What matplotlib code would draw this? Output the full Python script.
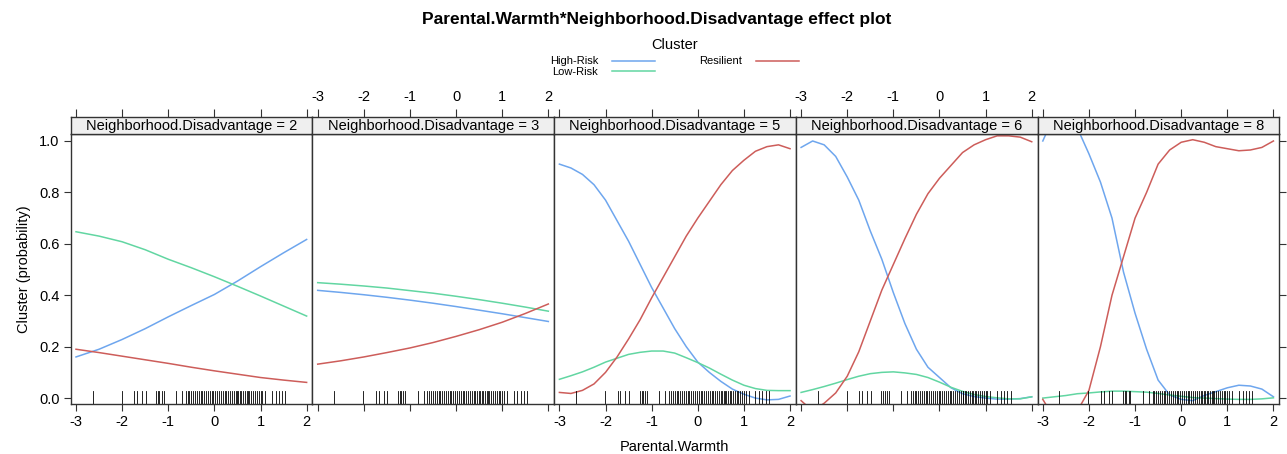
import numpy as np
import matplotlib.pyplot as plt
from matplotlib.lines import Line2D

plt.rcParams['font.family'] = ['Liberation Sans', 'DejaVu Sans']

# x grids for the effect curves
warmth_coarse = [-3, -2.5, -2, -1.5, -1, -0.5, 0, 0.5, 1, 1.5, 2]
warmth_fine = [-3, -2.75, -2.5, -2.25, -2, -1.75, -1.5, -1.25, -1, -0.75, -0.5,
               -0.25, 0, 0.25, 0.5, 0.75, 1, 1.25, 1.5, 1.75, 2]

disadvantage = [2, 3, 5, 6, 8]
clusters = ["High-Risk", "Low-Risk", "Resilient"]
colors = {"High-Risk": "#6ea6ee", "Low-Risk": "#62d6a2", "Resilient": "#cd5d5a"}

# Neighborhood.Disadvantage = 2
hr_2 = [0.16, 0.19, 0.228, 0.27, 0.316, 0.36, 0.403, 0.455, 0.511, 0.565, 0.617]
lr_2 = [0.647, 0.63, 0.608, 0.577, 0.54, 0.507, 0.472, 0.435, 0.397, 0.358, 0.319]
rs_2 = [0.19, 0.177, 0.163, 0.149, 0.135, 0.12, 0.106, 0.093, 0.08, 0.07, 0.061]

# Neighborhood.Disadvantage = 3
hr_3 = [0.419, 0.411, 0.402, 0.392, 0.381, 0.369, 0.356, 0.342, 0.328, 0.313, 0.298]
lr_3 = [0.449, 0.443, 0.436, 0.428, 0.418, 0.408, 0.396, 0.383, 0.369, 0.354, 0.338]
rs_3 = [0.132, 0.145, 0.16, 0.177, 0.195, 0.216, 0.24, 0.266, 0.295, 0.329, 0.366]

# Neighborhood.Disadvantage = 5
hr_5 = [0.91, 0.895, 0.87, 0.83, 0.77, 0.69, 0.61, 0.52, 0.43, 0.35, 0.27,
        0.20, 0.14, 0.10, 0.065, 0.035, 0.015, 0.0, -0.007, -0.005, 0.008]
lr_5 = [0.073, 0.087, 0.102, 0.12, 0.14, 0.155, 0.17, 0.178, 0.183, 0.183, 0.175,
        0.157, 0.138, 0.117, 0.093, 0.07, 0.05, 0.037, 0.03, 0.029, 0.029]
rs_5 = [0.022, 0.018, 0.03, 0.055, 0.10, 0.16, 0.23, 0.305, 0.39, 0.47, 0.55,
        0.63, 0.70, 0.765, 0.83, 0.885, 0.925, 0.96, 0.978, 0.985, 0.97]

# Neighborhood.Disadvantage = 6
hr_6 = [0.975, 1.0, 0.985, 0.94, 0.86, 0.77, 0.65, 0.54, 0.41, 0.29, 0.19,
        0.12, 0.08, 0.04, 0.017, 0.006, 0.0, -0.004, -0.004, -0.002, 0.005]
lr_6 = [0.022, 0.033, 0.045, 0.058, 0.072, 0.085, 0.095, 0.1, 0.102, 0.098, 0.092,
        0.08, 0.062, 0.042, 0.026, 0.014, 0.006, 0.001, -0.003, -0.003, 0.005]
rs_6 = [-0.01, -0.05, -0.02, 0.02, 0.085, 0.18, 0.30, 0.42, 0.52, 0.62, 0.715,
        0.795, 0.855, 0.905, 0.955, 0.985, 1.005, 1.02, 1.02, 1.015, 0.997]

# Neighborhood.Disadvantage = 8
hr_8 = [1.0, 1.1, 1.12, 1.05, 0.95, 0.84, 0.70, 0.49, 0.33, 0.19, 0.07,
        0.012, -0.005, -0.01, 0.01, 0.025, 0.04, 0.05, 0.047, 0.035, 0.005]
lr_8 = [0.0, 0.005, 0.01, 0.017, 0.02, 0.024, 0.027, 0.027, 0.025, 0.023, 0.018,
        0.012, 0.007, 0.002, 0.0, -0.002, -0.004, -0.005, -0.005, -0.003, 0.001]
rs_8 = [-0.005, -0.08, -0.12, -0.05, 0.03, 0.20, 0.40, 0.55, 0.70, 0.80, 0.91,
        0.965, 0.995, 1.005, 0.995, 0.978, 0.97, 0.962, 0.965, 0.975, 1.0]

panels = [
    (warmth_coarse, hr_2, lr_2, rs_2),
    (warmth_coarse, hr_3, lr_3, rs_3),
    (warmth_fine, hr_5, lr_5, rs_5),
    (warmth_fine, hr_6, lr_6, rs_6),
    (warmth_fine, hr_8, lr_8, rs_8),
]

# observed Parental.Warmth values (rug)
rug_warmth = [-2.64, -2.01, -1.74, -1.68, -1.57, -1.49, -1.26, -1.22, -1.19, -1.14,
              -1.10, -0.83, -0.70, -0.62, -0.58, -0.54, -0.50, -0.46, -0.42, -0.38,
              -0.34, -0.30, -0.26, -0.22, -0.18, -0.14, -0.10, -0.06, -0.02, 0.02,
              0.06, 0.10, 0.14, 0.18, 0.22, 0.26, 0.30, 0.34, 0.38, 0.42, 0.46,
              0.50, 0.52, 0.56, 0.58, 0.62, 0.66, 0.70, 0.72, 0.76, 0.80, 0.84,
              0.88, 0.92, 0.96, 1.00, 1.04, 1.10, 1.25, 1.33, 1.40, 1.47, 1.54]

xticks = [-3, -2, -1, 0, 1, 2]
yticks = [0.0, 0.2, 0.4, 0.6, 0.8, 1.0]
xlim = (-3.115, 2.125)
ylim = (-0.023, 1.026)

W, H = 1287, 454
fig = plt.figure(figsize=(W / 100, H / 100), dpi=100)

left0 = 70.7 / W
pw = 241.7 / W
bottom = (H - 404) / H
ph = (404 - 134.3) / H
sh = 17.6 / H
edge = "#333333"

for i, (xs, hr, lr, rs) in enumerate(panels):
    ax = fig.add_axes([left0 + i * pw, bottom, pw, ph])
    for name, ys in zip(clusters, (hr, lr, rs)):
        ax.plot(xs, ys, color=colors[name], lw=1.1)
    for r in rug_warmth:
        ax.plot([r, r], [0, 0.05], color="black", lw=0.6,
                transform=ax.get_xaxis_transform())
    ax.set_xlim(*xlim)
    ax.set_ylim(*ylim)
    for s in ax.spines.values():
        s.set_color(edge)
        s.set_linewidth(1.0)
    ax.set_xticks(xticks)
    ax.tick_params(axis="x", direction="out", length=5, width=0.8, color=edge,
                   labelsize=10.5, pad=3, labelbottom=(i % 2 == 0))
    ax.set_xticklabels([str(t) for t in xticks])
    if i == 0:
        ax.set_yticks(yticks)
        ax.set_yticklabels(["%.1f" % t for t in yticks])
        ax.tick_params(axis="y", direction="out", length=5, width=0.8, color=edge,
                       labelsize=10.5, pad=3)
        ax.set_ylabel("Cluster (probability)", fontsize=10.5, labelpad=6)
    elif i == len(panels) - 1:
        ax.set_yticks(yticks)
        ax.tick_params(axis="y", left=False, labelleft=False, right=True,
                       direction="out", length=5, width=0.8, color=edge)
    else:
        ax.set_yticks([])

    # strip
    st = fig.add_axes([left0 + i * pw, bottom + ph, pw, sh])
    st.set_facecolor("#efefef")
    st.set_xlim(*xlim)
    st.set_ylim(0, 1)
    st.set_yticks([])
    st.set_xticks(xticks)
    st.set_xticklabels([str(t) for t in xticks])
    st.tick_params(axis="x", bottom=False, labelbottom=False, top=True,
                   labeltop=(i % 2 == 1), direction="out", length=6, width=0.8,
                   color=edge, labelsize=10.5, pad=3)
    for s in st.spines.values():
        s.set_color(edge)
        s.set_linewidth(1.0)
    st.text(0.5, 0.45, "Neighborhood.Disadvantage = %d" % disadvantage[i],
            transform=st.transAxes, ha="center", va="center", fontsize=10.5)

fig.text(0.51, 0.956, "Parental.Warmth*Neighborhood.Disadvantage effect plot",
         ha="center", va="center", fontsize=12.5, fontweight="bold")
fig.text(0.524, 0.90, "Cluster", ha="center", va="center", fontsize=10.5)
fig.text(0.524, 0.015, "Parental.Warmth", ha="center", va="center", fontsize=10.5)

handles = [Line2D([], [], color=colors[c], lw=1.1) for c in clusters]
fig.legend(handles, clusters, ncol=2, markerfirst=False, frameon=False,
           fontsize=8, handlelength=3.9, columnspacing=4.0, labelspacing=0.05,
           handletextpad=1.2, loc="center", bbox_to_anchor=(0.524, 0.853))

fig.savefig("out.png", dpi=100)
